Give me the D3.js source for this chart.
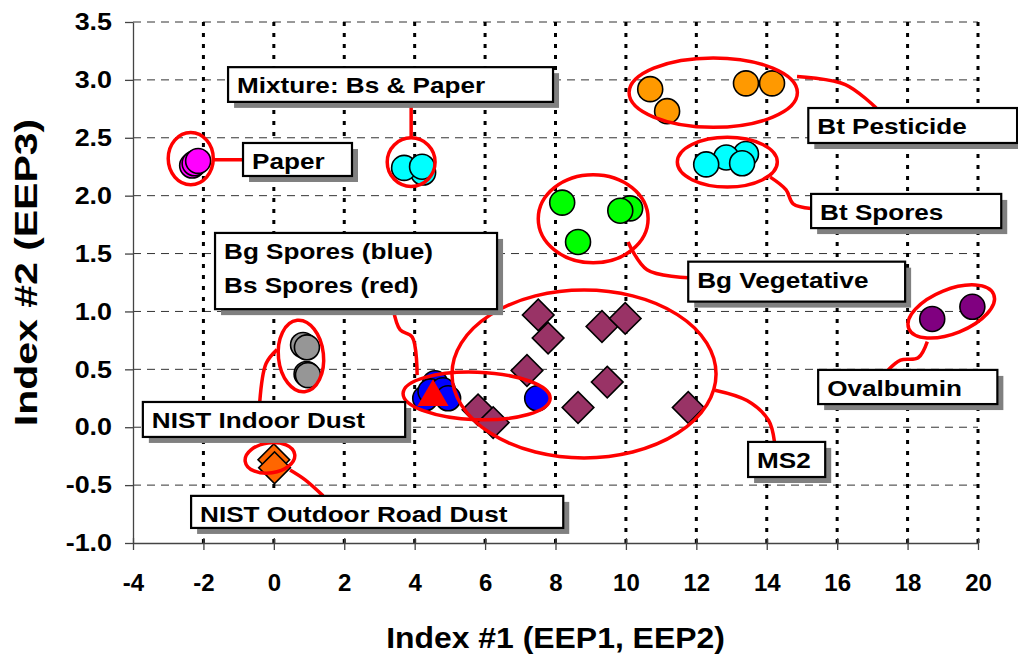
<!DOCTYPE html>
<html>
<head>
<meta charset="utf-8">
<script src="https://cdn.jsdelivr.net/npm/d3@7"></script>
<style>
body { margin: 0; background: #fff; }
text { font-family: "Liberation Sans", Arial, sans-serif; font-weight: bold; }
</style>
</head>
<body>
<div id="chart"></div>
<script>
// tick labels
const xTickValues = [-4, -2, 0, 2, 4, 6, 8, 10, 12, 14, 16, 18, 20];
const yTickValues = [-1, -0.5, 0, 0.5, 1, 1.5, 2, 2.5, 3, 3.5];

// series values [index1, index2]
const paper = [[-2.32, 2.26], [-2.25, 2.28], [-2.15, 2.30]];
const mixture = [[4.24, 2.20], [3.70, 2.24], [4.21, 2.25]];
const btPesticide = [[10.69, 2.92], [11.17, 2.73], [13.41, 2.97], [14.15, 2.97]];
const btSpores = [[13.41, 2.36], [12.85, 2.33], [12.28, 2.27], [13.30, 2.28]];
const bgVegetative = [[8.19, 1.94], [10.12, 1.89], [9.84, 1.87], [8.64, 1.60]];
const ovalbumin = [[18.70, 0.935], [19.84, 1.04]];
const nistIndoor = [[0.83, 0.71], [0.94, 0.69], [0.93, 0.46], [0.97, 0.45]];
const nistOutdoor = [[0.0, -0.28], [0.02, -0.35]];
const bgSpores = [[4.30, 0.25], [4.58, 0.38], [4.45, 0.31], [4.80, 0.32], [4.95, 0.25], [7.48, 0.25]];
const bsSpores = [[4.52, 0.26]];
const ms2 = [[7.51, 0.97], [7.79, 0.77], [7.19, 0.49], [5.80, 0.15], [6.23, 0.04],
             [9.32, 0.87], [9.98, 0.94], [9.47, 0.39], [8.64, 0.17], [11.77, 0.17]];

const margin = { left: 133, right: 40, top: 22, bottom: 115 };
const svgWidth = 1018;
const svgHeight = 658;
const width = svgWidth - margin.left - margin.right;
const height = svgHeight - margin.top - margin.bottom;

const svg = d3.select('#chart')
.append('svg')
.attr('width', svgWidth)
.attr('height', svgHeight)
.append('g')
.attr('transform', `translate(${margin.left}, ${margin.top})`);

const x = d3.scaleLinear().domain([-4, 20]).range([0, width]);
const y = d3.scaleLinear().domain([-1, 3.5]).range([height, 0]);

// widen text a little, the original rendering is wider than Arial
const stretch = (sel, f) => sel.each(function () {
    const n = this.getComputedTextLength();
    d3.select(this).attr('textLength', n * f).attr('lengthAdjust', 'spacingAndGlyphs');
});

// grid
svg.append('g')
.selectAll('line')
.data(yTickValues.filter((d) => d > -1))
.enter()
.append('line')
.attr('x1', 0).attr('x2', width)
.attr('y1', (d) => y(d)).attr('y2', (d) => y(d))
.attr('stroke', '#333')
.attr('stroke-width', 1)
.attr('stroke-dasharray', '8,6');

svg.append('g')
.selectAll('line')
.data(xTickValues.filter((d) => d > -4))
.enter()
.append('line')
.attr('x1', (d) => x(d)).attr('x2', (d) => x(d))
.attr('y1', 0).attr('y2', height)
.attr('stroke', '#000')
.attr('stroke-width', 3)
.attr('stroke-dasharray', '4,7');

// axes
const xAxis = svg.append('g')
.attr('transform', `translate(0, ${height})`)
.call(d3.axisBottom(x).tickValues(xTickValues).tickSizeInner(6).tickSizeOuter(0)
    .tickPadding(25).tickFormat((d) => d.toFixed(0)));
xAxis.selectAll('.tick line').attr('y1', -5).attr('y2', 7);
xAxis.selectAll('text').attr('font-size', 24).attr('fill', '#000');
xAxis.attr('font-family', null);

const yAxis = svg.append('g')
.call(d3.axisLeft(y).tickValues(yTickValues).tickSizeInner(8).tickSizeOuter(0)
    .tickPadding(13).tickFormat((d) => d.toFixed(1)));
yAxis.selectAll('text').attr('font-size', 24).attr('fill', '#000');
yAxis.attr('font-family', null);
svg.selectAll('.domain, .tick line').attr('stroke', '#444').attr('stroke-width', 1.3);
stretch(xAxis.selectAll('text'), 1.0);
stretch(yAxis.selectAll('text'), 1.12);

// axis titles
svg.append('text')
.attr('x', width / 2)
.attr('y', height + 105)
.attr('text-anchor', 'middle')
.attr('font-size', 29)
.text('Index #1 (EEP1, EEP2)')
.call(stretch, 1.1);

svg.append('text')
.attr('transform', `translate(${-96}, ${height / 2 - 10}) rotate(-90)`)
.attr('text-anchor', 'middle')
.attr('font-size', 32)
.text('Index #2 (EEP3)')
.call(stretch, 1.28);

// markers
const series = [
    { values: paper, shape: 'circle', fill: '#FF00FF' },
    { values: mixture, shape: 'circle', fill: '#00FFFF' },
    { values: btPesticide, shape: 'circle', fill: '#FF9900' },
    { values: btSpores, shape: 'circle', fill: '#00FFFF' },
    { values: bgVegetative, shape: 'circle', fill: '#00FF00' },
    { values: ovalbumin, shape: 'circle', fill: '#800080' },
    { values: nistIndoor, shape: 'circle', fill: '#969696' },
    { values: nistOutdoor, shape: 'diamond', fill: '#FF6600' },
    { values: ms2, shape: 'diamond', fill: '#993366' },
    { values: bgSpores, shape: 'circle', fill: '#0000FF' },
    { values: bsSpores, shape: 'triangle', fill: '#FF0000' }
];

const symbols = {
    circle: d3.symbol(d3.symbolCircle, 490),
    diamond: d3.symbol(d3.symbolSquare, 500),
    triangle: d3.symbol(d3.symbolTriangle, 420)
};

const marks = svg.append('g');
series.forEach((s) => {
    marks.append('g')
    .selectAll('path')
    .data(s.values)
    .enter()
    .append('path')
    .attr('d', symbols[s.shape])
    .attr('transform', (d) => `translate(${x(d[0])}, ${y(d[1])})` + (s.shape === 'diamond' ? ' rotate(45)' : ''))
    .attr('fill', s.fill)
    .attr('stroke', s.shape === 'triangle' ? 'none' : '#000')
    .attr('stroke-width', 1.6);
});

// annotation ellipses: center, radii in axis units, tilt in degrees
const groups = [
    { cx: -2.36, cy: 2.32, rx: 0.64, ry: 0.225, tilt: 0 },
    { cx: 3.90, cy: 2.29, rx: 0.68, ry: 0.21, tilt: 0 },
    { cx: 12.48, cy: 2.89, rx: 2.39, ry: 0.30, tilt: 0 },
    { cx: 12.88, cy: 2.29, rx: 1.42, ry: 0.215, tilt: 0 },
    { cx: 9.07, cy: 1.80, rx: 1.56, ry: 0.38, tilt: 0 },
    { cx: 19.24, cy: 1.00, rx: 1.30, ry: 0.19, tilt: -22 },
    { cx: 0.77, cy: 0.615, rx: 0.64, ry: 0.31, tilt: -6 },
    { cx: -0.11, cy: -0.265, rx: 0.71, ry: 0.13, tilt: -8 },
    { cx: 5.76, cy: 0.27, rx: 2.09, ry: 0.205, tilt: 2 },
    { cx: 8.81, cy: 0.46, rx: 3.75, ry: 0.725, tilt: 0 }
];

const kx = x(1) - x(0);
const ky = y(0) - y(1);

svg.append('g')
.selectAll('ellipse')
.data(groups)
.enter()
.append('ellipse')
.attr('transform', (d) => `translate(${x(d.cx)}, ${y(d.cy)}) rotate(${d.tilt})`)
.attr('rx', (d) => d.rx * kx)
.attr('ry', (d) => d.ry * ky)
.attr('fill', 'none')
.attr('stroke', '#FF0000')
.attr('stroke-width', 3.5);

// leader lines
const leaders = [
    [[-1.73, 2.31], [-0.82, 2.31]],
    [[3.90, 2.79], [3.90, 2.50]],
    [[14.86, 3.03], [16.23, 2.96], [17.11, 2.757]],
    [[14.10, 2.16], [14.55, 2.05], [14.75, 1.93], [15.26, 1.89]],
    [[10.06, 1.60], [10.60, 1.36], [11.77, 1.29]],
    [[18.56, 0.74], [18.30, 0.60], [17.80, 0.58], [17.45, 0.495]],
    [[12.53, 0.32], [13.44, 0.23], [14.05, 0.06], [14.22, -0.127]],
    [[3.39, 1.02], [3.59, 0.84], [3.93, 0.78], [4.07, 0.45]],
    [[0.09, 0.67], [-0.22, 0.55], [-0.40, 0.218]],
    [[0.46, -0.37], [0.89, -0.455], [1.40, -0.593]]
];

const leaderLine = d3.line()
.x((d) => x(d[0]))
.y((d) => y(d[1]))
.curve(d3.curveCatmullRom);

svg.append('g')
.selectAll('path')
.data(leaders)
.enter()
.append('path')
.attr('d', leaderLine)
.attr('fill', 'none')
.attr('stroke', '#FF0000')
.attr('stroke-width', 3.5);

// label boxes: corners in axis units
const labels = [
    { lines: ['Mixture: Bs & Paper'], x0: -1.30, y0: 3.11, x1: 7.93, y1: 2.81 },
    { lines: ['Paper'], x0: -0.875, y0: 2.455, x1: 2.22, y1: 2.17 },
    { lines: ['Bt Pesticide'], x0: 15.18, y0: 2.757, x1: 21.11, y1: 2.455 },
    { lines: ['Bt Spores'], x0: 15.26, y0: 2.015, x1: 20.66, y1: 1.72 },
    { lines: ['Bg Vegetative'], x0: 11.77, y0: 1.43, x1: 17.93, y1: 1.085 },
    { lines: ['Ovalbumin'], x0: 15.46, y0: 0.495, x1: 20.55, y1: 0.20 },
    { lines: ['MS2'], x0: 13.47, y0: -0.127, x1: 15.66, y1: -0.43 },
    { lines: ['Bg Spores (blue)', 'Bs Spores (red)'], x0: -1.67, y0: 1.678, x1: 6.34, y1: 1.02 },
    { lines: ['NIST Indoor Dust'], x0: -3.72, y0: 0.218, x1: 3.73, y1: -0.084 },
    { lines: ['NIST Outdoor Road Dust'], x0: -2.35, y0: -0.593, x1: 8.22, y1: -0.87 }
];

const boxes = svg.append('g')
.selectAll('g')
.data(labels)
.enter()
.append('g')
.attr('transform', (d) => `translate(${x(d.x0)}, ${y(d.y0)})`);

boxes.append('rect')
.attr('x', 6).attr('y', 6)
.attr('width', (d) => x(d.x1) - x(d.x0))
.attr('height', (d) => y(d.y1) - y(d.y0))
.attr('fill', '#808080');

boxes.append('rect')
.attr('width', (d) => x(d.x1) - x(d.x0))
.attr('height', (d) => y(d.y1) - y(d.y0))
.attr('fill', '#fff')
.attr('stroke', '#000')
.attr('stroke-width', 2.2);

boxes.each(function (d) {
    const g = d3.select(this);
    d.lines.forEach((line, i) => {
        g.append('text')
        .attr('x', 9)
        .attr('y', 26 + i * 34)
        .attr('font-size', 22.5)
        .attr('fill', '#000')
        .text(line)
        .call(stretch, 1.16);
    });
});
</script>
</body>
</html>
